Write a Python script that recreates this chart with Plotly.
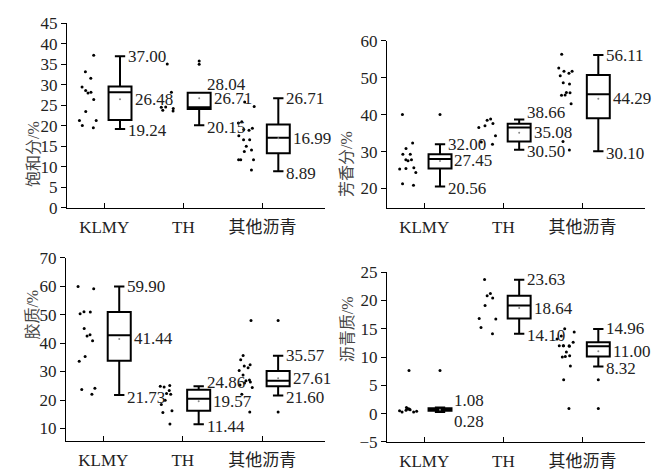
import plotly.graph_objects as go

categories = ["KLMY", "TH", "其他沥青"]
titles = ["饱和分/%", "芳香分/%", "胶质/%", "沥青质/%"]

# ---- Panel 1: 饱和分 ----
p1_lower = [19.24, 20.15, 8.89]
p1_q1 = [21.4, 24.1, 13.3]
p1_median = [28.2, 24.5, 17.1]
p1_q3 = [29.6, 28.04, 20.3]
p1_upper = [37.00, 28.04, 26.71]
p1_mean = [26.48, 26.71, 16.99]
p1_raw = [
    [37.2, 33.2, 31.6, 29.5, 28.2, 28.0, 28.6, 26.4, 23.5, 21.3, 21.3, 20.1, 19.5],
    [35.1, 28.2, 24.6, 24.5, 24.2, 23.8, 23.6],
    [25.8, 24.7, 21.0, 20.7, 19.4, 19.1, 18.9, 17.6, 16.6, 16.6, 15.0, 14.1, 13.7, 11.7, 11.7, 11.7, 9.2],
]
p1_out = [[], [35.8, 35.0], []]

# ---- Panel 2: 芳香分 ----
p2_lower = [20.56, 30.50, 30.10]
p2_q1 = [25.4, 32.7, 39.0]
p2_median = [28.0, 36.5, 45.5]
p2_q3 = [29.3, 37.5, 50.7]
p2_upper = [32.00, 38.66, 56.11]
p2_mean = [27.45, 35.08, 44.29]
p2_raw = [
    [40.0, 32.3, 30.8, 29.3, 29.3, 27.8, 27.8, 27.5, 25.6, 25.3, 25.4, 24.3, 21.3, 20.9],
    [38.8, 38.5, 37.6, 37.0, 36.5, 34.3, 32.6, 32.0],
    [56.3, 52.6, 51.7, 51.7, 51.2, 50.5, 48.6, 48.3, 46.0, 45.9, 45.3, 45.2, 42.9, 32.7, 30.4],
]
p2_out = [[40.0], [], []]

# ---- Panel 3: 胶质 ----
p3_lower = [21.73, 11.44, 21.60]
p3_q1 = [33.8, 16.2, 24.8]
p3_median = [42.7, 20.4, 26.8]
p3_q3 = [50.9, 23.6, 30.2]
p3_upper = [59.90, 24.86, 35.57]
p3_mean = [41.44, 19.57, 27.61]
p3_raw = [
    [59.9, 59.1, 51.0, 50.9, 50.3, 45.1, 42.9, 42.5, 40.8, 35.3, 33.6, 24.1, 23.7, 22.0],
    [25.1, 24.8, 24.6, 23.3, 22.3, 22.0, 19.9, 18.4, 16.2, 15.6, 11.6],
    [47.9, 35.6, 34.1, 32.4, 31.9, 31.3, 30.4, 28.8, 27.0, 26.8, 26.3, 26.0, 25.3, 24.4, 22.0, 15.8],
]
p3_out = [[], [], [47.9, 15.8]]

# ---- Panel 4: 沥青质 ----
p4_lower = [0.28, 14.10, 8.32]
p4_q1 = [0.5, 16.8, 10.1]
p4_median = [0.7, 19.1, 11.9]
p4_q3 = [0.95, 20.8, 12.6]
p4_upper = [1.08, 23.63, 14.96]
p4_mean = [0.7, 18.64, 11.00]
p4_mean_label = [False, True, True]
p4_raw = [
    [7.6, 1.1, 0.9, 0.8, 0.8, 0.7, 0.6, 0.5, 0.4, 0.3, 0.3],
    [23.7, 21.2, 20.8, 20.4, 19.1, 16.8, 16.7, 15.2, 14.1],
    [15.0, 14.4, 13.7, 13.2, 12.6, 12.0, 12.0, 12.0, 12.0, 11.9, 10.9, 10.2, 10.1, 10.0, 8.4, 6.0, 0.9],
]
p4_out = [[7.6], [], [6.0, 0.9]]

panels = [
    dict(lower=p1_lower, q1=p1_q1, med=p1_median, q3=p1_q3, upper=p1_upper, mean=p1_mean,
         raw=p1_raw, out=p1_out, meanlab=[True, True, True], yr=[0, 45], dt=5,
         xd=[67, 325], yd=[15, 207], title=(23, 115), ushift=[0, 8, 0], lshift=[-2, -2, -2]),
    dict(lower=p2_lower, q1=p2_q1, med=p2_median, q3=p2_q3, upper=p2_upper, mean=p2_mean,
         raw=p2_raw, out=p2_out, meanlab=[True, True, True], yr=[14.8, 60], dt=10,
         xd=[387, 645], yd=[33, 207], title=(347, 125), ushift=[0, 7, 0], lshift=[-2, -2, -2]),
    dict(lower=p3_lower, q1=p3_q1, med=p3_median, q3=p3_q3, upper=p3_upper, mean=p3_mean,
         raw=p3_raw, out=p3_out, meanlab=[True, True, True], yr=[5.6, 70], dt=10,
         xd=[66, 325], yd=[259, 450], title=(22, 347), ushift=[0, 4, 0], lshift=[-2, -2, -2]),
    dict(lower=p4_lower, q1=p4_q1, med=p4_median, q3=p4_q3, upper=p4_upper, mean=p4_mean,
         raw=p4_raw, out=p4_out, meanlab=p4_mean_label, yr=[-5, 25], dt=5,
         xd=[387, 645], yd=[274, 451], title=(347, 370), ushift=[7, 0, 0], lshift=[-9, -2, -2]),
]

W, H = 660, 475
FONT = "Liberation Serif, Noto Sans CJK SC, serif"
BOXW = 0.29
WW = 0.45
OFF = 0.2

fig = go.Figure()
annotations = []
layout = {}
for k, p in enumerate(panels):
    sfx = "" if k == 0 else str(k + 1)
    xa, ya = "x" + sfx, "y" + sfx
    for i in range(3):
        # raw points, jittered by plotly
        fig.add_trace(go.Box(
            x=[i - OFF] * len(p["raw"][i]), y=p["raw"][i], xaxis=xa, yaxis=ya,
            boxpoints="all", jitter=1, pointpos=0, width=0.27,
            fillcolor="rgba(0,0,0,0)", line=dict(color="rgba(0,0,0,0)", width=0),
            marker=dict(color="black", size=3), showlegend=False, hoverinfo="skip"))
        # box
        fig.add_trace(go.Box(
            x=[i + OFF], q1=[p["q1"][i]], median=[p["med"][i]], q3=[p["q3"][i]],
            lowerfence=[p["lower"][i]], upperfence=[p["upper"][i]],
            xaxis=xa, yaxis=ya, width=BOXW, whiskerwidth=WW, boxpoints=False,
            fillcolor="white", line=dict(color="black", width=2), showlegend=False))
        # outliers
        if p["out"][i]:
            fig.add_trace(go.Scatter(
                x=[i + OFF] * len(p["out"][i]), y=p["out"][i], xaxis=xa, yaxis=ya,
                mode="markers", marker=dict(color="black", size=3), showlegend=False))
        # mean dot
        fig.add_trace(go.Scatter(
            x=[i + OFF], y=[p["mean"][i]], xaxis=xa, yaxis=ya, mode="markers",
            marker=dict(color="#888", size=2), showlegend=False))
        # labels
        capx = i + OFF + BOXW * WW / 2
        boxr = i + OFF + BOXW / 2
        special = (k == 3 and i == 0)
        annotations.append(dict(x=capx if not special else boxr, y=p["upper"][i], xref=xa, yref=ya,
                                text=f"{p['upper'][i]:.2f}", showarrow=False,
                                xanchor="left", xshift=1, yshift=p["ushift"][i],
                                font=dict(size=17, family=FONT, color="#222")))
        annotations.append(dict(x=capx if not special else boxr, y=p["lower"][i], xref=xa, yref=ya,
                                text=f"{p['lower'][i]:.2f}", showarrow=False,
                                xanchor="left", xshift=1, yshift=p["lshift"][i],
                                font=dict(size=17, family=FONT, color="#222")))
        if p["meanlab"][i]:
            annotations.append(dict(x=boxr, y=p["mean"][i], xref=xa, yref=ya,
                                    text=f"{p['mean'][i]:.2f}", showarrow=False,
                                    xanchor="left", xshift=1,
                                    font=dict(size=17, family=FONT, color="#222")))
    layout["xaxis" + sfx] = dict(
        domain=[p["xd"][0] / W, p["xd"][1] / W], anchor=ya, range=[-0.47, 2.79],
        tickmode="array", tickvals=[0, 1, 2], ticktext=categories,
        ticks="inside", ticklen=5, tickcolor="black", showline=True, linecolor="black",
        linewidth=1, showgrid=False, zeroline=False, ticklabelstandoff=4,
        tickfont=dict(size=17, family=FONT, color="#222"))
    layout["yaxis" + sfx] = dict(
        domain=[1 - p["yd"][1] / H, 1 - p["yd"][0] / H], anchor=xa, range=p["yr"],
        dtick=p["dt"], tick0=0, ticks="outside", ticklen=5, tickcolor="black",
        showline=True, linecolor="black", linewidth=1, showgrid=False, zeroline=False,
        tickfont=dict(size=17, family=FONT, color="#222"))
    annotations.append(dict(x=p["title"][0] / W, y=1 - p["title"][1] / H, xref="paper", yref="paper",
                            text=titles[k], textangle=-90, showarrow=False,
                            font=dict(size=16, family=FONT, color="#444")))

fig.update_layout(width=W, height=H, margin=dict(l=0, r=0, t=0, b=0),
                  plot_bgcolor="white", paper_bgcolor="white", boxmode="overlay",
                  annotations=annotations, showlegend=False, **layout)
fig.write_html("out.html")
